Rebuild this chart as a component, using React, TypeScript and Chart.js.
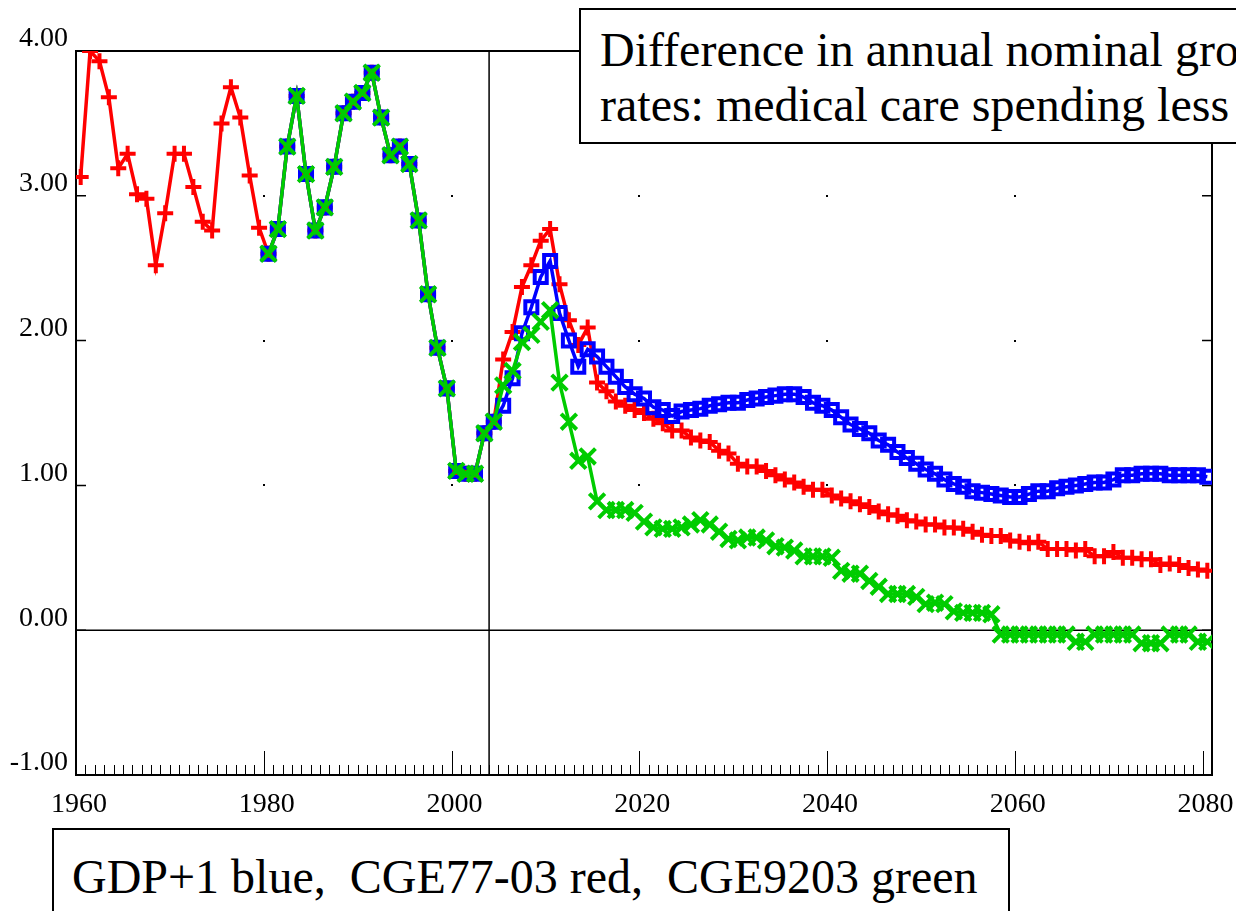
import React, { useEffect, useRef } from 'react';
import { Chart, registerables } from 'chart.js';

Chart.register(...registerables);

// Annual growth-rate differences (percentage points), one value per year.
const RED_YEARS_START = 1960;
const SCENARIO_YEARS_START = 1980;
const PROJECTION_YEAR = 2004;
const MID_YEAR = 0.5; // annual rates are plotted at mid-year

const RED_1960_1979 = [3.13, 4.0, 3.93, 3.68, 3.19, 3.29, 3.01, 2.98, 2.52, 2.88, 3.29, 3.29, 3.06, 2.82, 2.76, 3.5, 3.75, 3.54, 3.14, 2.78];

const SHARED_1980_2004 = [2.6, 2.77, 3.34, 3.69, 3.15, 2.76, 2.92, 3.2, 3.57, 3.65, 3.71, 3.85, 3.54, 3.28, 3.34, 3.22, 2.83, 2.32, 1.95, 1.67, 1.1, 1.08, 1.08, 1.36, 1.44];

const RED_2005_2080 = [
  1.87, 2.06, 2.37, 2.52, 2.69, 2.77, 2.39, 2.14, 1.97, 2.09,
  1.71, 1.65, 1.58, 1.55, 1.52, 1.5, 1.46, 1.43, 1.38, 1.38,
  1.33, 1.31, 1.3, 1.24, 1.22, 1.15, 1.13, 1.13, 1.1, 1.07,
  1.04, 1.02, 0.99, 0.97, 0.97, 0.93, 0.91, 0.89, 0.87, 0.85,
  0.82, 0.8, 0.79, 0.76, 0.75, 0.73, 0.73, 0.71, 0.71, 0.7,
  0.68, 0.66, 0.65, 0.65, 0.62, 0.61, 0.6, 0.61, 0.56, 0.56,
  0.56, 0.55, 0.56, 0.51, 0.51, 0.54, 0.5, 0.5, 0.49, 0.49,
  0.45, 0.46, 0.45, 0.43, 0.42, 0.41,
];

const BLUE_2005_2080 = [
  1.55, 1.74, 2.05, 2.23, 2.44, 2.55, 2.19, 2.0, 1.82, 1.94,
  1.89, 1.82, 1.75, 1.68, 1.63, 1.6, 1.54, 1.52, 1.48, 1.51,
  1.52, 1.53, 1.55, 1.56, 1.57, 1.57, 1.59, 1.6, 1.61, 1.62,
  1.63, 1.63, 1.61, 1.57, 1.55, 1.52, 1.47, 1.42, 1.39, 1.36,
  1.31, 1.28, 1.23, 1.19, 1.15, 1.11, 1.08, 1.04, 1.01, 0.99,
  0.96, 0.95, 0.94, 0.93, 0.92, 0.92, 0.94, 0.96, 0.96, 0.98,
  0.99, 1.0, 1.01, 1.02, 1.02, 1.04, 1.07, 1.07, 1.08, 1.08,
  1.08, 1.07, 1.07, 1.07, 1.07, 1.06,
];

const GREEN_2005_2080 = [
  1.69, 1.79, 1.99, 2.04, 2.13, 2.21, 1.71, 1.44, 1.17, 1.2,
  0.89, 0.83, 0.83, 0.83, 0.81, 0.75, 0.71, 0.7, 0.7, 0.71,
  0.73, 0.76, 0.73, 0.68, 0.63, 0.62, 0.64, 0.64, 0.62, 0.58,
  0.57, 0.55, 0.51, 0.51, 0.51, 0.5, 0.41, 0.39, 0.39, 0.34,
  0.3, 0.25, 0.25, 0.25, 0.23, 0.18, 0.19, 0.18, 0.13, 0.12,
  0.12, 0.12, 0.11, -0.03, -0.03, -0.03, -0.03, -0.03, -0.03, -0.03,
  -0.03, -0.08, -0.08, -0.03, -0.03, -0.03, -0.03, -0.03, -0.09, -0.09,
  -0.09, -0.03, -0.03, -0.03, -0.08, -0.08,
];

const X_TICKS = [1960, 1980, 2000, 2020, 2040, 2060, 2080];
const Y_TICKS = [-1, 0, 1, 2, 3, 4];
const X_MIN = 1960;
const X_MAX = 2081;

const TITLE_LINES = ['Difference in annual nominal growth', 'rates: medical care spending less GDP'];
const LEGEND_TEXT = 'GDP+1 blue,  CGE77-03 red,  CGE9203 green';

const SERIF = '"Liberation Serif", "Times New Roman", serif';

function toPoints(start: number, values: number[]) {
  return values.map((v, i) => ({ x: start + i + MID_YEAR, y: v }));
}

const framePlugin = {
  id: 'frame',
  beforeDatasetsDraw(chart: any) {
    const { ctx, chartArea } = chart;
    const xs = chart.scales.x;
    const ys = chart.scales.y;
    const { left, right, top, bottom } = chartArea;
    ctx.save();
    ctx.strokeStyle = '#000';
    ctx.lineWidth = 2;
    ctx.strokeRect(left, top, right - left, bottom - top);

    ctx.lineWidth = 1.5;
    const y0 = ys.getPixelForValue(0);
    ctx.beginPath();
    ctx.moveTo(left, y0);
    ctx.lineTo(right, y0);
    const xp = xs.getPixelForValue(PROJECTION_YEAR);
    ctx.moveTo(xp, top);
    ctx.lineTo(xp, bottom);
    ctx.stroke();

    // x ticks pointing inward
    ctx.lineWidth = 1;
    ctx.beginPath();
    for (let yr = X_MIN; yr <= X_MAX - 1; yr++) {
      const px = Math.round(xs.getPixelForValue(yr)) + 0.5;
      const len = yr % 20 === 0 ? 24 : 10;
      ctx.moveTo(px, bottom);
      ctx.lineTo(px, bottom - len);
    }
    ctx.stroke();

    // y ticks on both sides
    ctx.lineWidth = 1.5;
    ctx.beginPath();
    Y_TICKS.forEach((v) => {
      const py = ys.getPixelForValue(v);
      ctx.moveTo(left, py);
      ctx.lineTo(left + 10, py);
      ctx.moveTo(right, py);
      ctx.lineTo(right - 10, py);
    });
    ctx.stroke();

    // grid dots
    ctx.fillStyle = '#000';
    X_TICKS.filter((t) => t > X_MIN && t < 2080).forEach((t) => {
      const px = xs.getPixelForValue(t);
      Y_TICKS.filter((v) => v > 0 && v < 4).forEach((v) => {
        const py = ys.getPixelForValue(v);
        ctx.fillRect(Math.round(px) - 1, Math.round(py) - 1, 2, 2);
      });
    });
    ctx.restore();
  },
};

export default function App() {
  const canvasRef = useRef<HTMLCanvasElement | null>(null);

  useEffect(() => {
    const canvas = canvasRef.current;
    if (!canvas) return;
    const red = [
      ...toPoints(RED_YEARS_START, RED_1960_1979),
      ...toPoints(SCENARIO_YEARS_START, SHARED_1980_2004),
      ...toPoints(PROJECTION_YEAR + 1, RED_2005_2080),
    ];
    const blue = [
      ...toPoints(SCENARIO_YEARS_START, SHARED_1980_2004),
      ...toPoints(PROJECTION_YEAR + 1, BLUE_2005_2080),
    ];
    const green = [
      ...toPoints(SCENARIO_YEARS_START, SHARED_1980_2004),
      ...toPoints(PROJECTION_YEAR + 1, GREEN_2005_2080),
    ];

    const chart = new Chart(canvas, {
      type: 'line',
      data: {
        datasets: [
          {
            label: 'CGE9203',
            data: green,
            borderColor: '#00CC00',
            backgroundColor: 'rgba(0,0,0,0)',
            borderWidth: 3.5,
            pointStyle: 'crossRot',
            pointRadius: 11,
            pointBorderWidth: 4,
            pointBorderColor: '#00CC00',
            tension: 0,
          },
          {
            label: 'GDP+1',
            data: blue,
            borderColor: '#0000FF',
            backgroundColor: 'rgba(0,0,0,0)',
            borderWidth: 3.5,
            pointStyle: 'rect',
            pointRadius: 8.5,
            pointBorderWidth: 4,
            pointBorderColor: '#0000FF',
            pointBackgroundColor: 'rgba(0,0,0,0)',
            tension: 0,
          },
          {
            label: 'CGE77-03',
            data: red,
            borderColor: '#FF0000',
            backgroundColor: 'rgba(0,0,0,0)',
            borderWidth: 3.5,
            pointStyle: 'cross',
            pointRadius: 8,
            pointBorderWidth: 4,
            pointBorderColor: '#FF0000',
            tension: 0,
          },
        ],
      },
      options: {
        responsive: false,
        animation: false,
        devicePixelRatio: 1,
        layout: { padding: { left: 0, top: 51, right: 24, bottom: 96 } },
        plugins: { legend: { display: false }, tooltip: { enabled: false } },
        scales: {
          x: {
            type: 'linear',
            min: X_MIN,
            max: X_MAX,
            grid: { display: false, drawTicks: false },
            border: { display: false },
            afterBuildTicks: (s: any) => {
              s.ticks = X_TICKS.map((v) => ({ value: v }));
            },
            afterFit: (s: any) => {
              s.height = 40;
              s.paddingLeft = 0;
              s.paddingRight = 0;
            },
            ticks: {
              autoSkip: false,
              maxRotation: 0,
              padding: 13,
              labelOffset: 3,
              color: '#000',
              font: { family: SERIF, size: 28 },
              callback: (v: any) => String(v),
            },
          },
          y: {
            type: 'linear',
            min: -1,
            max: 4,
            grid: { display: false, drawTicks: false },
            border: { display: false },
            afterBuildTicks: (s: any) => {
              s.ticks = Y_TICKS.map((v) => ({ value: v }));
            },
            afterFit: (s: any) => {
              s.width = 76;
              s.paddingTop = 0;
              s.paddingBottom = 0;
            },
            ticks: {
              padding: 8,
              labelOffset: -12,
              color: '#000',
              font: { family: SERIF, size: 28 },
              callback: (v: any) => Number(v).toFixed(2),
            },
          },
        },
      },
      plugins: [framePlugin],
    });
    return () => chart.destroy();
  }, []);

  const boxText: React.CSSProperties = {
    fontFamily: SERIF,
    fontSize: 48,
    lineHeight: '55px',
    whiteSpace: 'pre',
    color: '#000',
  };

  return (
    <div style={{ position: 'fixed', left: 0, top: 0, width: 1236, height: 911, overflow: 'hidden', background: '#fff' }}>
      <canvas ref={canvasRef} width={1236} height={911} style={{ position: 'absolute', left: 0, top: 0, display: 'block' }} />
      <div
        style={{
          ...boxText,
          position: 'absolute',
          left: 579,
          top: 8,
          width: 760,
          height: 136,
          boxSizing: 'border-box',
          border: '2px solid #000',
          background: '#fff',
          paddingLeft: 19,
          paddingTop: 12,
        }}
      >
        {TITLE_LINES.map((l) => (
          <div key={l}>{l}</div>
        ))}
      </div>
      <div
        style={{
          ...boxText,
          position: 'absolute',
          left: 52,
          top: 828,
          width: 958,
          height: 120,
          boxSizing: 'border-box',
          border: '2px solid #000',
          background: '#fff',
          paddingLeft: 18,
          paddingTop: 19,
        }}
      >
        {LEGEND_TEXT}
      </div>
    </div>
  );
}
